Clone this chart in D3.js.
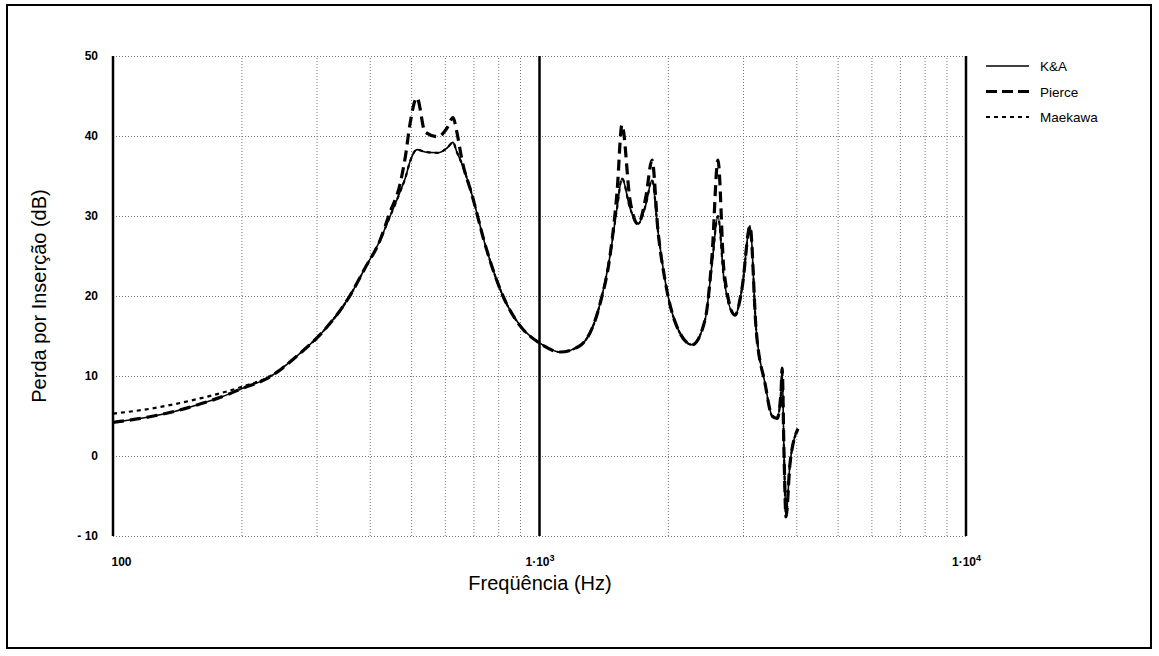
<!DOCTYPE html>
<html lang="pt">
<head>
<meta charset="UTF-8">
<title>Perda por Inserção</title>
<script src="https://d3js.org/d3.v7.min.js"></script>
<style>
  body { margin: 0; background: #fff; }
  svg { display: block; }
  .tick-lbl text { font-family: "Liberation Sans", Arial, sans-serif; font-size: 12px; font-weight: bold; fill: #000; }
  .grid line { stroke: #777; stroke-width: 1; stroke-dasharray: 1,2; }
  .grid .domain { display: none; }
  .axis-title { font-family: "Liberation Sans", Arial, sans-serif; font-size: 20px; fill: #000; }
  .legend text { font-family: "Liberation Sans", Arial, sans-serif; font-size: 13.5px; fill: #000; }
</style>
</head>
<body>
<div id="chart"></div>
<script>
// dados (frequência em Hz, perda em dB)
const freq = [100, 122, 140, 160, 180, 202, 230, 274, 310, 359, 390, 423, 445, 471, 485, 497, 516, 539, 578, 607, 627, 640, 658, 695, 745, 821, 900, 1002, 1117, 1245, 1386, 1463, 1520, 1561, 1630, 1702, 1777, 1836, 1897, 1969, 2078, 2279, 2444, 2538, 2621, 2709, 2873, 2985, 3116, 3219, 3381, 3510, 3607, 3684, 3706, 3745, 3784, 3866, 4036];

const ka = [4.2, 4.9, 5.6, 6.5, 7.4, 8.5, 9.7, 12.8, 15.5, 20.0, 23.5, 27.0, 29.8, 33.0, 34.8, 36.8, 38.3, 38.0, 37.9, 38.5, 39.2, 38.0, 36.5, 32.6, 26.5, 20.0, 16.3, 14.1, 13.0, 13.8, 19.0, 25.0, 31.0, 34.7, 31.0, 29.0, 31.5, 34.5, 28.0, 22.0, 16.8, 13.9, 17.0, 24.0, 30.0, 22.0, 17.6, 21.0, 28.7, 16.0, 9.0, 5.0, 4.7, 8.0, 11.0, 0.0, -7.6, -1.0, 3.4];

const pierce = [4.2, 4.9, 5.6, 6.5, 7.4, 8.5, 9.7, 12.8, 15.5, 20.0, 23.5, 27.0, 30.3, 34.0, 37.5, 41.5, 44.8, 40.5, 39.9, 41.0, 42.3, 40.5, 37.0, 32.6, 26.5, 20.0, 16.3, 14.1, 13.0, 13.8, 19.0, 25.0, 33.0, 41.4, 32.0, 29.0, 32.5, 37.0, 28.0, 22.0, 16.8, 13.9, 17.0, 25.0, 37.0, 23.0, 17.6, 21.0, 28.7, 16.0, 9.0, 5.0, 4.7, 8.0, 11.0, 0.0, -7.6, -1.0, 3.4];

const maekawa = [5.3, 5.9, 6.5, 7.2, 7.9, 8.7, 9.8, 12.8, 15.5, 20.0, 23.5, 27.0, 29.8, 33.0, 34.8, 36.8, 38.3, 38.0, 37.9, 38.5, 39.2, 38.0, 36.5, 32.6, 26.5, 20.0, 16.3, 14.1, 13.0, 13.8, 19.0, 25.0, 31.0, 34.7, 31.0, 29.0, 31.5, 34.5, 28.0, 22.0, 16.8, 13.9, 17.0, 24.0, 30.0, 22.0, 17.6, 21.0, 28.7, 16.0, 9.0, 5.0, 4.7, 8.0, 11.0, 0.0, -7.6, -1.0, 3.4];

const yTicks = [-10, 0, 10, 20, 30, 40, 50];
const xTicks = [100, 1000, 10000];
const xMinor = [200, 300, 400, 500, 600, 700, 800, 900, 2000, 3000, 4000, 5000, 6000, 7000, 8000, 9000];
const seriesNames = ["K&A", "Pierce", "Maekawa"];

const W = 1159, H = 656;
const margin = {top: 56, right: 193, bottom: 120, left: 113};
const width = W - margin.left - margin.right,
      height = H - margin.top - margin.bottom;

const svg = d3.select("#chart").append("svg")
    .attr("width", W)
    .attr("height", H);

// moldura externa
svg.append("rect")
    .attr("x", 7).attr("y", 5)
    .attr("width", 1144).attr("height", 643)
    .attr("fill", "none").attr("stroke", "#000").attr("stroke-width", 2);

const g = svg.append("g")
    .attr("transform", "translate(" + margin.left + "," + margin.top + ")");

const x = d3.scaleLog().domain([100, 10000]).range([0, width]);
const y = d3.scaleLinear().domain([-10, 50]).range([height, 0]);

// grade pontilhada
g.append("g").attr("class", "grid")
    .attr("transform", "translate(0," + height + ")")
    .call(d3.axisBottom(x).tickValues(xMinor).tickSize(-height).tickFormat(""));

g.append("g").attr("class", "grid")
    .call(d3.axisLeft(y).tickValues(yTicks).tickSize(-width).tickFormat(""));

// linhas cheias nas décadas
g.selectAll(".decade")
    .data(xTicks)
    .enter().append("line")
    .attr("x1", d => x(d)).attr("x2", d => x(d))
    .attr("y1", 0).attr("y2", height)
    .attr("stroke", "#000")
    .attr("stroke-width", 2.5);

// rótulos dos eixos
const yAx = g.append("g").attr("class", "tick-lbl")
    .call(d3.axisLeft(y).tickValues(yTicks).tickSize(0).tickPadding(15)
        .tickFormat(d => d < 0 ? "- " + Math.abs(d) : d));
yAx.select(".domain").remove();

const xAx = g.append("g").attr("class", "tick-lbl")
    .attr("transform", "translate(0," + height + ")")
    .call(d3.axisBottom(x).tickValues(xTicks).tickSize(0).tickPadding(21).tickFormat(""));
xAx.select(".domain").remove();
xAx.selectAll(".tick text").each(function(d) {
    const t = d3.select(this);
    if (d === 100) {
        t.attr("dx", 8).text("100");
    } else {
        t.text("1·10");
        t.append("tspan").attr("dy", "-5").attr("font-size", "9px").text(Math.round(Math.log10(d)));
    }
});

svg.append("text").attr("class", "axis-title")
    .attr("x", 540).attr("y", 590)
    .attr("text-anchor", "middle")
    .text("Freqüência (Hz)");

svg.append("text").attr("class", "axis-title")
    .attr("transform", "translate(46,296) rotate(-90)")
    .attr("text-anchor", "middle")
    .text("Perda por Inserção (dB)");

// curvas
const line = vals => d3.line()
    .x((d, i) => x(freq[i]))
    .y(d => y(d))
    .curve(d3.curveMonotoneX)(vals);

g.append("path").attr("d", line(maekawa))
    .attr("fill", "none").attr("stroke", "#000").attr("stroke-width", 2.2)
    .attr("stroke-dasharray", "4,4");

g.append("path").attr("d", line(pierce))
    .attr("fill", "none").attr("stroke", "#000").attr("stroke-width", 3.2)
    .attr("stroke-dasharray", "11,6");

g.append("path").attr("d", line(ka))
    .attr("fill", "none").attr("stroke", "#000").attr("stroke-width", 1.6);

// legenda
const styles = [
    {w: 1.4, dash: null},
    {w: 3, dash: "11,5"},
    {w: 2, dash: "4,4"}
];
const legend = svg.append("g").attr("class", "legend")
    .selectAll("g")
    .data(seriesNames)
    .enter().append("g")
    .attr("transform", (d, i) => "translate(986," + (66 + i * 25.5) + ")");

legend.append("line")
    .attr("x1", 0).attr("x2", 43)
    .attr("stroke", "#000")
    .attr("stroke-width", (d, i) => styles[i].w)
    .attr("stroke-dasharray", (d, i) => styles[i].dash);

legend.append("text")
    .attr("x", 54).attr("y", 5)
    .text(d => d);
</script>
</body>
</html>
